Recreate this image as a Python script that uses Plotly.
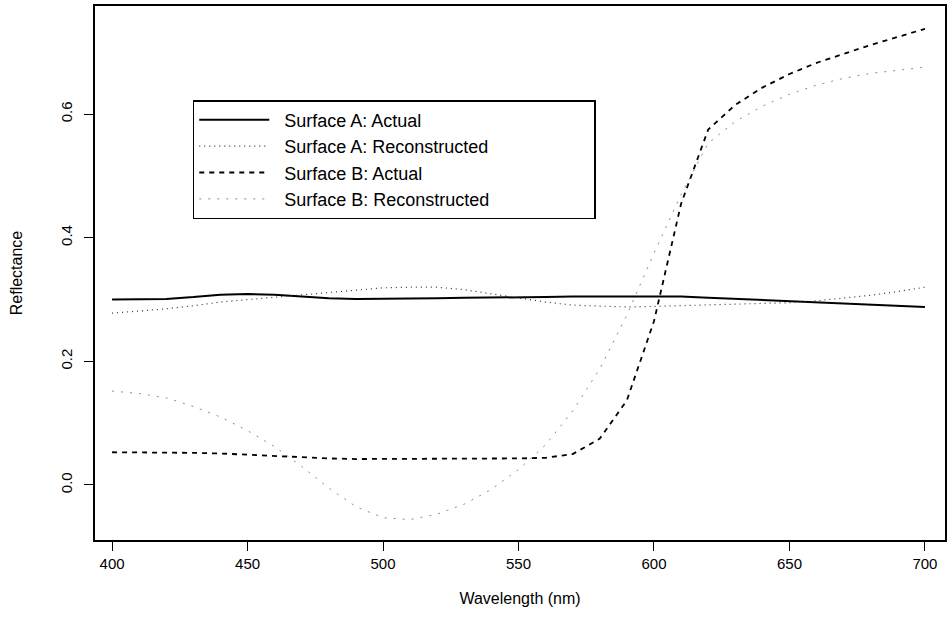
import plotly.graph_objects as go

wavelength = [400, 410, 420, 430, 440, 450, 460, 470, 480, 490, 500, 510, 520, 530, 540, 550,
              560, 570, 580, 590, 600, 610, 620, 630, 640, 650, 660, 670, 680, 690, 700]

surface_a_actual = [0.300, 0.300, 0.301, 0.304, 0.308, 0.309, 0.308, 0.305, 0.302, 0.301, 0.301,
                    0.302, 0.302, 0.303, 0.303, 0.303, 0.304, 0.305, 0.305, 0.305, 0.306, 0.305,
                    0.303, 0.301, 0.299, 0.297, 0.296, 0.294, 0.292, 0.290, 0.288]

surface_a_recon = [0.278, 0.281, 0.285, 0.290, 0.296, 0.300, 0.304, 0.308, 0.312, 0.316, 0.319,
                   0.320, 0.320, 0.316, 0.309, 0.302, 0.296, 0.291, 0.289, 0.288, 0.289, 0.290,
                   0.291, 0.292, 0.293, 0.295, 0.298, 0.302, 0.307, 0.313, 0.320]

surface_b_actual = [0.053, 0.053, 0.052, 0.052, 0.051, 0.049, 0.046, 0.044, 0.043, 0.042, 0.042,
                    0.042, 0.042, 0.042, 0.042, 0.043, 0.044, 0.050, 0.075, 0.137, 0.265, 0.455,
                    0.575, 0.615, 0.643, 0.665, 0.683, 0.698, 0.712, 0.725, 0.738]

surface_b_recon = [0.152, 0.148, 0.141, 0.127, 0.110, 0.088, 0.062, 0.030, -0.005, -0.035, -0.053,
                   -0.056, -0.047, -0.031, -0.007, 0.025, 0.065, 0.120, 0.188, 0.275, 0.375, 0.470,
                   0.553, 0.588, 0.613, 0.632, 0.647, 0.658, 0.666, 0.671, 0.676]

series_names = ["Surface A: Actual", "Surface A: Reconstructed",
                "Surface B: Actual", "Surface B: Reconstructed"]

x_ticks = [400, 450, 500, 550, 600, 650, 700]
y_ticks = [0.0, 0.2, 0.4, 0.6]
y_tick_labels = ["0.0", "0.2", "0.4", "0.6"]

FONT = "Liberation Sans, Arial, Helvetica, sans-serif"
NB = "\u00a0"


def legend_name(s, pad):
    return NB * 2 + s + NB * pad


fig = go.Figure()
fig.add_trace(go.Scatter(x=wavelength, y=surface_a_actual, mode="lines",
                         name=legend_name(series_names[0], 0),
                         line=dict(color="black", width=2, dash="solid")))
fig.add_trace(go.Scatter(x=wavelength, y=surface_a_recon, mode="lines",
                         name=legend_name(series_names[1], 20),
                         line=dict(color="#333333", width=1.2, dash="1px,4px")))
fig.add_trace(go.Scatter(x=wavelength, y=surface_b_actual, mode="lines",
                         name=legend_name(series_names[2], 0),
                         line=dict(color="black", width=1.8, dash="5px,5px")))
fig.add_trace(go.Scatter(x=wavelength, y=surface_b_recon, mode="lines",
                         name=legend_name(series_names[3], 0),
                         line=dict(color="#8a8a8a", width=1, dash="2px,7px")))

fig.update_layout(
    width=947, height=630,
    margin=dict(l=95, r=0, t=6, b=90),
    paper_bgcolor="white", plot_bgcolor="white",
    font=dict(family=FONT, size=15, color="black"),
    showlegend=True,
    legend=dict(
        x=(193 - 95) / (947 - 95), y=1 - (100 - 6) / (540 - 6),
        xanchor="left", yanchor="top",
        bordercolor="black", borderwidth=1.5, bgcolor="white",
        font=dict(family=FONT, size=18, color="black"),
        itemwidth=70,
        tracegroupgap=0,
    ),
    xaxis=dict(
        range=[393.7, 707.4],
        tickmode="array", tickvals=x_ticks,
        ticks="outside", ticklen=9, tickwidth=1.2, tickcolor="black",
        showline=True, linecolor="black", linewidth=1.5, mirror=True,
        showgrid=False, zeroline=False,
        tickfont=dict(family=FONT, size=15),
        title=dict(text="Wavelength (nm)", font=dict(family=FONT, size=16), standoff=22),
    ),
    yaxis=dict(
        range=[-0.089, 0.775],
        tickmode="array", tickvals=y_ticks, ticktext=y_tick_labels,
        tickangle=-90,
        ticks="outside", ticklen=9, tickwidth=1.2, tickcolor="black",
        showline=True, linecolor="black", linewidth=1.5, mirror=True,
        showgrid=False, zeroline=False,
        ticklabelstandoff=6,
        tickfont=dict(family=FONT, size=15),
        title=dict(text="Reflectance", font=dict(family=FONT, size=16), standoff=32),
    ),
)

fig.write_html("out.html")
